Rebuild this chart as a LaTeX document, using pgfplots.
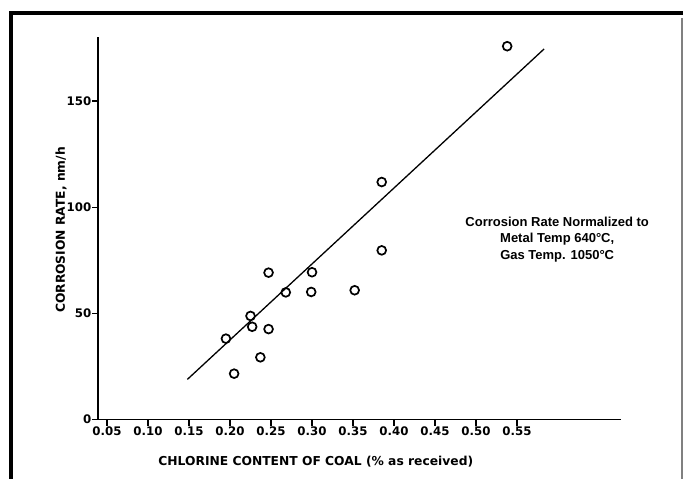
\documentclass[border=0pt]{standalone}
\usepackage{fontspec}
\setmainfont{DejaVu Sans}
\newfontfamily\libsans{Liberation Sans}
\usepackage{pgfplots}
\pgfplotsset{compat=1.18}

\begin{document}
\begin{tikzpicture}
\begin{axis}[
    at={(98pt,59.5pt)}, anchor=south west,
    scale only axis,
    width=523pt, height=382.2pt,
    xmin=0.039, xmax=0.6768,
    ymin=0, ymax=180.1,
    axis lines*=left,
    axis line style={line width=1.7pt},
    tick align=outside,
    major tick length=6pt,
    every tick/.style={black, line width=1.4pt},
    xtick={0.05,0.10,0.15,0.20,0.25,0.30,0.35,0.40,0.45,0.50,0.55},
    xticklabels={0.05,0.10,0.15,0.20,0.25,0.30,0.35,0.40,0.45,0.50,0.55},
    ytick={0,50,100,150},
    yticklabels={0,50,100,150},
    tick label style={font=\fontsize{11.8pt}{13pt}\selectfont\bfseries},
    xticklabel style={inner sep=1pt},
    yticklabel style={inner sep=0.5pt},
    xlabel={CHLORINE CONTENT OF COAL (\% as received)},
    ylabel={CORROSION RATE, nm/h},
    label style={font=\fontsize{12.3pt}{14pt}\selectfont\bfseries},
    x label style={at={(axis description cs:0.4164,0)}, anchor=center, yshift=-42.2pt},
    y label style={at={(axis description cs:0,0.496)}, anchor=center, yshift=37pt},
    clip=false,
]
% measured points
\addplot[only marks, mark=o, mark size=4.4pt, line width=1.7pt, black] coordinates {
    (0.195,38.1) (0.205,21.6) (0.225,48.8) (0.227,43.7) (0.237,29.3)
    (0.247,42.6) (0.247,69.2) (0.268,59.9) (0.300,69.4) (0.299,60.1)
    (0.352,60.9) (0.385,79.7) (0.385,111.9) (0.538,175.9)
};
% fitted line
\addplot[black, line width=1.3pt] coordinates {(0.148,18.9) (0.583,174.6)};
\node[align=center, font=\libsans\fontsize{13pt}{16.5pt}\selectfont\bfseries]
    at (axis cs:0.599,84.9) {Corrosion Rate Normalized to\\Metal Temp 640\textdegree C,\\Gas Temp. 1050\textdegree C};
\end{axis}
% page frame
\draw[line width=4pt, line join=miter] (11pt,0pt) -- (11pt,466pt) -- (683pt,466pt);
\draw[gray, line width=1.5pt] (682pt,0pt) -- (682pt,461pt);
\pgfresetboundingbox
\path[use as bounding box] (0pt,0pt) rectangle (683pt,479pt);
\end{tikzpicture}
\end{document}
